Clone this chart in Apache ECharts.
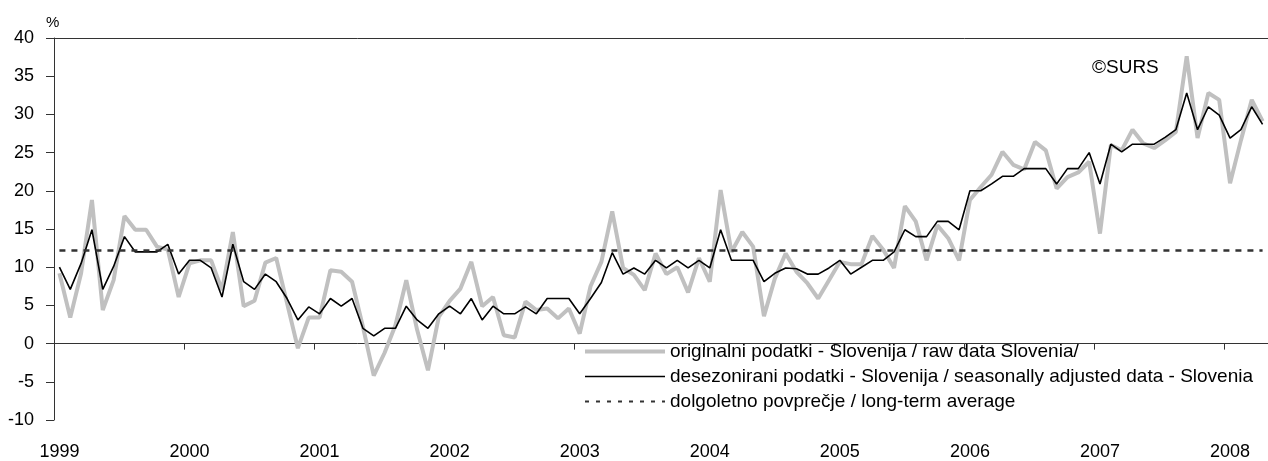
<!DOCTYPE html>
<html>
<head>
<meta charset="utf-8">
<script src="https://cdn.jsdelivr.net/npm/echarts@6/dist/echarts.min.js"></script>
<style>
html,body{margin:0;padding:0;background:#fff;}
#c{width:1268px;height:461px;}
</style>
</head>
<body>
<div id="c"></div>
<script>
// ---- data ----
var years = ['1999','2000','2001','2002','2003','2004','2005','2006','2007','2008'];
var monthsInLastYear = 4;
var rawData = [
  9.2, 3.4, 9.2, 18.8, 4.4, 8.3, 16.7, 14.9, 14.9, 12.7, 12.3, 6.1,
  10.5, 10.9, 10.9, 7.0, 14.6, 4.9, 5.6, 10.6, 11.2, 5.3, -0.6, 3.4,
  3.4, 9.6, 9.4, 8.1, 2.2, -4.2, -1.2, 2.4, 8.3, 1.8, -3.5, 3.5,
  5.6, 7.2, 10.7, 4.9, 6.1, 1.1, 0.8, 5.5, 4.4, 4.6, 3.3, 4.6,
  1.3, 7.5, 10.7, 17.3, 9.9, 9.0, 7.0, 11.8, 9.1, 10.0, 6.7, 11.2,
  8.1, 20.1, 12.0, 14.6, 12.7, 3.6, 8.5, 11.8, 9.4, 7.9, 5.9, 8.3,
  10.7, 10.4, 10.4, 14.1, 12.3, 9.9, 18.0, 16.0, 10.9, 15.5, 13.8, 10.9,
  18.8, 20.5, 22.1, 25.1, 23.4, 22.8, 26.4, 25.3, 20.3, 21.8, 22.4, 23.8,
  14.4, 26.0, 25.3, 28.0, 26.2, 25.6, 26.6, 27.7, 37.6, 26.9, 32.8, 31.9,
  21.0, 26.6, 31.9, 29.1
];
var adjustedData = [
  10.0, 7.1, 10.5, 14.9, 7.1, 10.1, 14.0, 12.0, 12.0, 12.0, 13.0, 9.1,
  10.9, 10.9, 9.9, 6.1, 13.0, 8.1, 7.1, 9.1, 8.1, 5.9, 3.1, 4.8,
  3.9, 5.9, 4.9, 5.9, 2.0, 1.0, 2.0, 2.0, 4.9, 3.1, 2.0, 3.9,
  4.9, 3.9, 5.9, 3.1, 4.9, 3.9, 3.9, 4.8, 3.9, 5.9, 5.9, 5.9,
  3.9, 5.9, 8.0, 11.9, 9.1, 9.9, 9.1, 10.9, 9.9, 10.9, 9.9, 10.9,
  9.9, 14.9, 10.9, 10.9, 10.9, 8.1, 9.2, 9.9, 9.8, 9.1, 9.1, 9.9,
  10.9, 9.1, 10.0, 10.9, 10.9, 12.0, 14.9, 14.0, 14.0, 16.0, 16.0, 14.9,
  20.0, 20.0, 20.9, 21.9, 21.9, 22.9, 22.9, 22.9, 20.9, 22.9, 22.9, 25.0,
  20.9, 26.1, 25.1, 26.1, 26.1, 26.1, 27.0, 28.0, 32.8, 28.0, 31.0, 29.9,
  26.9, 28.0, 31.0, 28.7
];
var longTermAverage = 12.2;
var yTicks = { min: -10, max: 40, interval: 5 };
var seriesNames = [
  'originalni podatki - Slovenija / raw data Slovenia/',
  'desezonirani podatki - Slovenija / seasonally adjusted data - Slovenia',
  'dolgoletno povprečje / long-term average'
];

// categories: one per month, labelled with year on January
var categories = [];
years.forEach(function (y, yi) {
  var n = (yi === years.length - 1) ? monthsInLastYear : 12;
  for (var m = 1; m <= n; m++) categories.push(y + '-' + (m < 10 ? '0' + m : m));
});

var FONT = 'Liberation Sans, Arial, sans-serif';
var chart = echarts.init(document.getElementById('c'));
var isJan = function (idx) { return idx % 12 === 0; };

chart.setOption({
  animation: false,
  backgroundColor: '#fff',
  grid: { left: 54, top: 38, bottom: 41, right: -10, containLabel: false },
  xAxis: [{
    type: 'category',
    data: categories,
    boundaryGap: true,
    axisLine: { show: true, lineStyle: { color: '#333', width: 1 } },
    axisTick: { show: true, interval: isJan, length: 6, lineStyle: { color: '#333' } },
    axisLabel: {
      interval: isJan,
      margin: 23,
      fontSize: 18,
      fontFamily: FONT,
      color: '#000',
      formatter: function (v) { return v.slice(0, 4); }
    },
    splitLine: { show: false }
  }, {
    type: 'category',
    data: categories,
    position: 'top',
    boundaryGap: true,
    axisLine: { show: true, lineStyle: { color: '#333', width: 1 } },
    axisTick: { show: false },
    axisLabel: { show: false },
    splitLine: { show: false }
  }],
  yAxis: {
    type: 'value',
    min: yTicks.min,
    max: yTicks.max,
    interval: yTicks.interval,
    axisLine: { show: true, lineStyle: { color: '#333', width: 1 } },
    axisTick: { show: true, length: 8, lineStyle: { color: '#333' } },
    axisLabel: { margin: 20, fontSize: 18, fontFamily: FONT, color: '#000' },
    splitLine: { show: false }
  },
  legend: {
    orient: 'vertical',
    left: 578,
    top: 337,
    itemWidth: 80,
    itemHeight: 14,
    itemGap: 6,
    itemStyle: { opacity: 0 },
    textStyle: { fontSize: 19, fontFamily: FONT, color: '#000' },
    data: [
      { name: seriesNames[0], lineStyle: { width: 4, color: '#c0c0c0' } },
      { name: seriesNames[1], lineStyle: { width: 1.6, color: '#000' } },
      { name: seriesNames[2], lineStyle: { width: 2, color: '#333', type: [4, 7] } }
    ]
  },
  graphic: [
    { type: 'text', left: 46, top: 15, style: { text: '%', fontSize: 15, fontFamily: FONT, fill: '#000' } },
    { type: 'text', left: 1092, top: 58, style: { text: '©SURS', fontSize: 19, fontFamily: FONT, fill: '#000' } }
  ],
  series: [{
    name: seriesNames[0],
    type: 'line',
    data: rawData,
    symbol: 'none',
    z: 2,
    lineStyle: { color: '#c0c0c0', width: 4 },
    itemStyle: { color: '#c0c0c0' }
  }, {
    name: seriesNames[1],
    type: 'line',
    data: adjustedData,
    symbol: 'none',
    z: 3,
    lineStyle: { color: '#000', width: 1.6 },
    itemStyle: { color: '#000' }
  }, {
    name: seriesNames[2],
    type: 'line',
    data: [],
    symbol: 'none',
    z: 1,
    lineStyle: { color: '#333', width: 2, type: [4, 7] },
    itemStyle: { color: '#333' },
    markLine: {
      silent: true,
      symbol: 'none',
      label: { show: false },
      lineStyle: { color: '#333', width: 2.5, type: [6, 6] },
      data: [[
        { coord: [categories[0], longTermAverage] },
        { coord: [categories[categories.length - 1], longTermAverage] }
      ]]
    }
  }]
});
</script>
</body>
</html>
